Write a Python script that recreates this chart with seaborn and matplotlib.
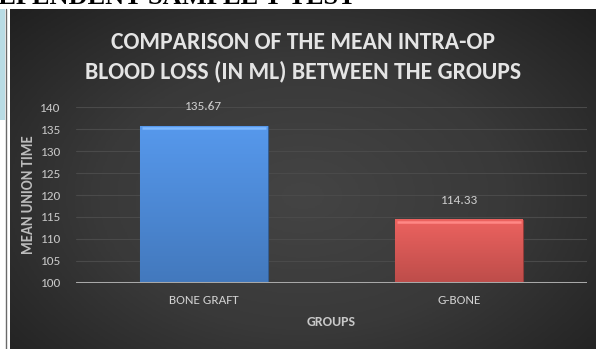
import numpy as np
import pandas as pd
import matplotlib
matplotlib.use("Agg")
import matplotlib.pyplot as plt
import matplotlib.colors as mcolors
import seaborn as sns

# Data
groups = ["BONE GRAFT", "G-BONE"]
mean_blood_loss = [135.67, 114.33]
bar_colors = ["#4a86d2", "#d25552"]
y_ticks = [100, 105, 110, 115, 120, 125, 130, 135, 140]

title = "COMPARISON OF THE MEAN INTRA-OP\nBLOOD LOSS (IN ML) BETWEEN THE GROUPS"
heading = "INDEPENDENT SAMPLE T-TEST"

df = pd.DataFrame({"group": groups, "value": mean_blood_loss})

sns.set_theme(style="dark")
plt.rcParams["font.family"] = ["Carlito", "DejaVu Sans"]

W, H = 596, 349
fig = plt.figure(figsize=(W / 100, H / 100), dpi=100)
fig.patch.set_facecolor("white")

def fx(px):
    return px / W

def fy(py):
    return 1 - py / H

# slide heading cut off at the top
fig.text(fx(-50), fy(4.5), heading, family=["Liberation Serif", "DejaVu Serif"],
         weight="bold", fontsize=19, color="black", ha="left", va="baseline")

# left strip of the slide
strip = fig.add_axes([0, fy(120), fx(4.5), fy(9) - fy(120)])
strip.set_facecolor("#b9dce5")
strip.set_xticks([]); strip.set_yticks([])
for s in strip.spines.values():
    s.set_visible(False)
fig.add_artist(plt.Line2D([fx(5.5), fx(5.5)], [0, fy(9)], color="#6a6a6a", lw=1.0))

# dark chart panel with radial shading
bg = fig.add_axes([fx(10), 0, 1 - fx(10), fy(9)])
gy, gx = np.mgrid[0:1:200j, 0:1:340j]
r = np.sqrt(((gx - 0.5) / 0.75) ** 2 + ((gy - 0.55) / 0.85) ** 2)
shade = np.clip(1 - r, 0, 1)
cmap_bg = mcolors.LinearSegmentedColormap.from_list("bg", ["#202020", "#393939", "#444444"])
bg.imshow(shade, cmap=cmap_bg, aspect="auto", extent=[0, 1, 0, 1], origin="upper")
bg.set_xlim(0, 1); bg.set_ylim(0, 1)
bg.axis("off")

# plot area
ax = fig.add_axes([fx(76), fy(283), fx(587) - fx(76), fy(107) - fy(283)])
ax.patch.set_alpha(0)
sns.barplot(data=df, x="group", y="value", hue="group", palette=bar_colors,
            width=0.5, legend=False, ax=ax, saturation=1, zorder=3)
ax.set_ylim(100, 140)
ax.set_xlim(-0.5, 1.5)
ax.set_autoscale_on(False)
ax.set_yticks(y_ticks)
ax.yaxis.grid(True, color="#4a4a4a", lw=0.8)
ax.xaxis.grid(False)
for s in ax.spines.values():
    s.set_visible(False)
ax.axhline(100, color="#a8a8a8", lw=2.2, zorder=4)

# bar shading and bevelled tops
ymin = ax.get_ylim()[0]
for p, c in zip(ax.patches, bar_colors):
    x0, y0 = p.get_x(), p.get_y()
    w, h = p.get_width(), p.get_height()
    top = y0 + h
    base = np.array(mcolors.to_rgb(c))
    grad = np.linspace(0, 1, 100)[:, None]
    img = np.zeros((100, 2, 3))
    light = np.clip(base * 1.1 + 0.02, 0, 1)
    dark = base * 0.9
    for k in range(3):
        img[:, :, k] = light[k] * (1 - grad) + dark[k] * grad
    ax.imshow(img, extent=[x0, x0 + w, ymin, top], aspect="auto",
              origin="upper", zorder=3.5, interpolation="bilinear")
    p.set_edgecolor(mcolors.to_hex(base * 0.7))
    p.set_linewidth(0.8)
    ax.plot([x0 + 0.008, x0 + w - 0.008], [top - 0.4, top - 0.4],
            color=mcolors.to_hex(np.clip(base + 0.2, 0, 1)), lw=1.8,
            solid_capstyle="butt", zorder=3.6)

ax.set_yticklabels([str(t) for t in y_ticks], fontsize=9.5, color="#c8c8c8")
ax.set_xticks(range(len(groups)))
ax.set_xticklabels(groups, fontsize=9.5, color="#d2d2d2")
ax.tick_params(axis="y", length=0, pad=11)
ax.tick_params(axis="x", length=0, pad=9)

for i, v in enumerate(mean_blood_loss):
    ax.annotate(f"{v:.2f}", (i, v), xytext=(0, 10), textcoords="offset points",
                ha="center", va="bottom", fontsize=9.5, color="#cfcfcf")

ax.set_ylabel("MEAN UNION TIME", fontsize=10.5, weight="bold", color="#bdbdbd", labelpad=3)
ax.set_xlabel("GROUPS", fontsize=10, weight="bold", color="#c8c8c8", labelpad=7)

fig.text(fx(303), fy(57), title, ha="center", va="center", fontsize=17,
         weight="bold", color="#e4e4e4", linespacing=1.45)

fig.savefig("out.png", dpi=100)
